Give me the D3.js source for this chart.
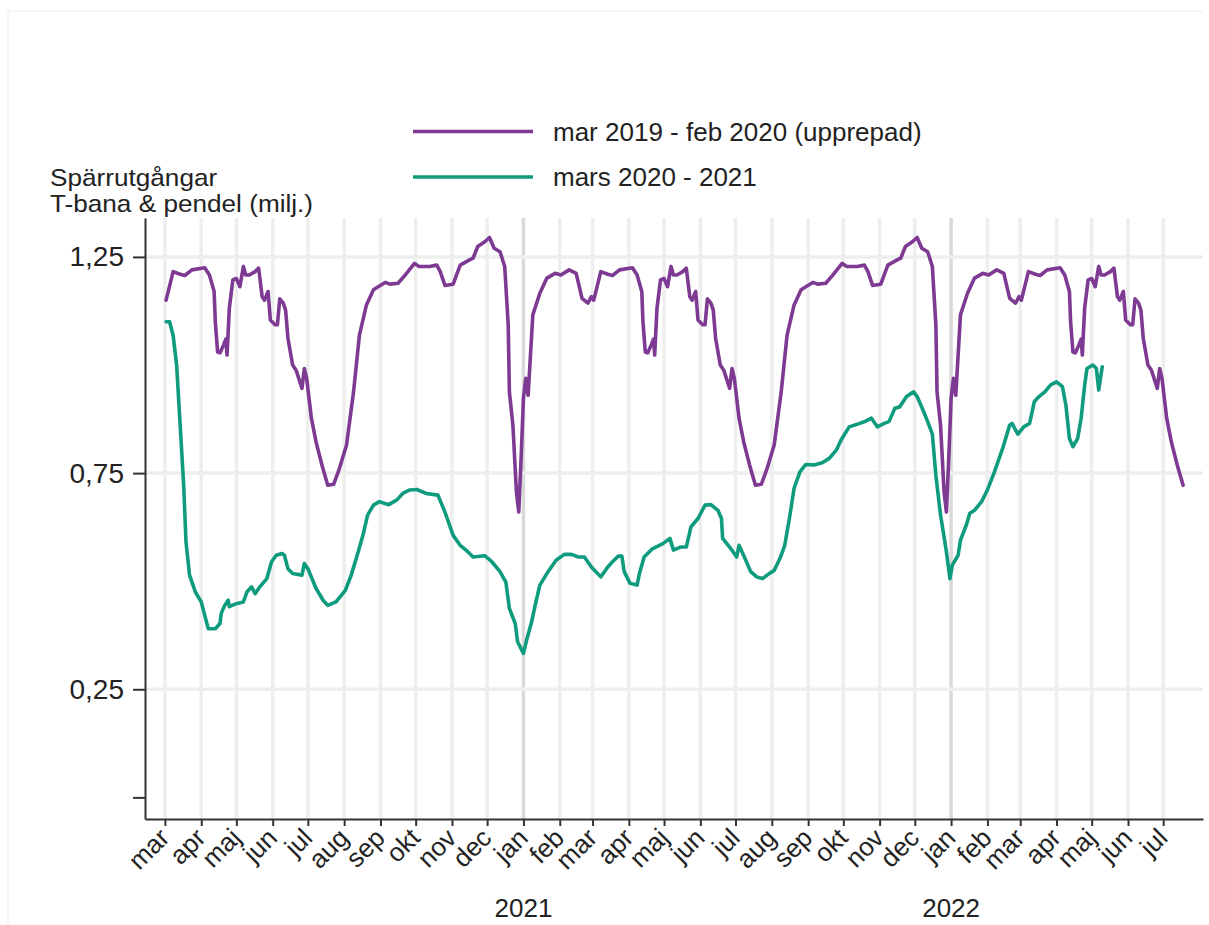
<!DOCTYPE html>
<html>
<head>
<meta charset="utf-8">
<script src="https://cdn.jsdelivr.net/npm/d3@7"></script>
<style>
  html, body { margin: 0; padding: 0; background: #fff; }
  text { font-family: "Liberation Sans", Arial, Helvetica, sans-serif; fill: #222; }
</style>
</head>
<body>
<svg id="chart" width="1209" height="925"></svg>
<script>
// ---------------- DATA ----------------
const monthLabels = ["jan","feb","mar","apr","maj","jun","jul","aug","sep","okt","nov","dec"];
const yTickValues = [0, 0.25, 0.75, 1.25];
const yLabelledTicks = [0.25, 0.75, 1.25];
const yearLabels = ["2021", "2022"];
const yTitleLines = ["Spärrutgångar", "T-bana & pendel (milj.)"];
const seriesNames = ["mar 2019 - feb 2020 (upprepad)", "mars 2020 - 2021"];

// Base year (mar 2019 - feb 2020), repeated each year (month-day)
const baseDates = ["03-02","03-08","03-14","03-18","03-24","04-04","04-08","04-12","04-13","04-15",
  "04-17","04-20","04-22","04-23","04-25","04-28","05-01","05-04","05-07","05-09",
  "05-12","05-17","05-20","05-23","05-25","05-28","05-30","06-03","06-05","06-07",
  "06-10","06-12","06-14","06-18","06-21","06-26","06-28","06-30","07-04","07-08",
  "07-13","07-18","07-23","07-28","08-03","08-09","08-14","08-20","08-26","08-30",
  "09-05","09-09","09-16","09-22","09-30","10-04","10-13","10-19","10-22","10-26",
  "11-02","11-08","11-16","11-19","11-23","11-29","12-03","12-07","12-12","12-16",
  "12-19","12-20","12-23","12-26","12-28","12-30","01-01","01-03","01-05","01-09",
  "01-15","01-21","01-28","02-02","02-09","02-15","02-20","02-25","02-28"];
const baseValues = [1.150,1.216,1.210,1.207,1.220,1.225,1.208,1.170,1.100,1.030,
  1.028,1.046,1.060,1.023,1.132,1.197,1.200,1.181,1.228,1.208,
  1.208,1.216,1.224,1.158,1.150,1.170,1.104,1.093,1.093,1.153,
  1.143,1.127,1.062,1.000,0.988,0.946,0.992,0.969,0.877,0.822,
  0.769,0.722,0.724,0.761,0.815,0.938,1.069,1.139,1.174,1.181,
  1.191,1.187,1.189,1.208,1.235,1.228,1.228,1.231,1.216,1.184,
  1.187,1.231,1.243,1.247,1.274,1.285,1.295,1.270,1.262,1.228,
  1.093,0.938,0.861,0.707,0.660,0.784,0.923,0.969,0.930,1.116,
  1.166,1.201,1.212,1.208,1.220,1.212,1.154,1.143,1.158];
const repeatStartYears = [2020, 2021, 2022];
const repeatEndDate = "2022-07-18";

// mars 2020 - 2021 (actual)
const greenDates = ["2020-03-02","2020-03-05","2020-03-08","2020-03-11","2020-03-14","2020-03-17","2020-03-19","2020-03-22","2020-03-27","2020-04-01",
  "2020-04-04","2020-04-07","2020-04-13","2020-04-17","2020-04-18","2020-04-21","2020-04-24","2020-04-25","2020-05-01","2020-05-07",
  "2020-05-10","2020-05-14","2020-05-17","2020-05-21","2020-05-27","2020-05-31","2020-06-04","2020-06-09","2020-06-11","2020-06-14",
  "2020-06-18","2020-06-26","2020-06-28","2020-07-01","2020-07-08","2020-07-14","2020-07-18","2020-07-25","2020-08-02","2020-08-07",
  "2020-08-13","2020-08-17","2020-08-21","2020-08-26","2020-08-31","2020-09-08","2020-09-15","2020-09-20","2020-09-26","2020-10-02",
  "2020-10-10","2020-10-20","2020-10-26","2020-11-02","2020-11-08","2020-11-13","2020-11-19","2020-11-29","2020-12-05","2020-12-12",
  "2020-12-17","2020-12-20","2020-12-25","2020-12-27","2021-01-01","2021-01-04","2021-01-08","2021-01-11","2021-01-15","2021-01-22",
  "2021-01-29","2021-02-05","2021-02-11","2021-02-17","2021-02-22","2021-02-28","2021-03-08","2021-03-14","2021-03-18","2021-03-23",
  "2021-03-26","2021-03-28","2021-04-02","2021-04-08","2021-04-10","2021-04-14","2021-04-21","2021-04-30","2021-05-06","2021-05-09",
  "2021-05-15","2021-05-20","2021-05-24","2021-05-30","2021-06-05","2021-06-10","2021-06-16","2021-06-19","2021-06-20","2021-06-26",
  "2021-07-02","2021-07-04","2021-07-09","2021-07-14","2021-07-19","2021-07-24","2021-07-30","2021-08-03","2021-08-08","2021-08-12",
  "2021-08-16","2021-08-20","2021-08-25","2021-08-30","2021-09-06","2021-09-13","2021-09-19","2021-09-25","2021-09-29","2021-10-06",
  "2021-10-15","2021-10-20","2021-10-25","2021-10-30","2021-11-05","2021-11-09","2021-11-14","2021-11-18","2021-11-24","2021-11-30",
  "2021-12-03","2021-12-08","2021-12-12","2021-12-16","2021-12-19","2021-12-23","2021-12-28","2021-12-31","2022-01-02","2022-01-07",
  "2022-01-09","2022-01-14","2022-01-17","2022-01-21","2022-01-27","2022-02-01","2022-02-07","2022-02-14","2022-02-20","2022-02-22",
  "2022-02-27","2022-03-04","2022-03-09","2022-03-13","2022-03-17","2022-03-22","2022-03-27","2022-04-01","2022-04-06","2022-04-09",
  "2022-04-12","2022-04-15","2022-04-19","2022-04-22","2022-04-25","2022-04-27","2022-05-02","2022-05-05","2022-05-07","2022-05-10"];
const greenValues = [1.100,1.100,1.069,1.000,0.861,0.722,0.591,0.514,0.475,0.452,
  0.421,0.390,0.390,0.402,0.425,0.444,0.456,0.441,0.448,0.452,
  0.475,0.487,0.471,0.487,0.506,0.545,0.560,0.564,0.560,0.529,
  0.518,0.514,0.541,0.529,0.483,0.456,0.444,0.452,0.479,0.514,
  0.568,0.606,0.653,0.676,0.684,0.677,0.688,0.703,0.711,0.712,
  0.703,0.699,0.660,0.606,0.583,0.572,0.556,0.559,0.545,0.522,
  0.498,0.437,0.402,0.360,0.333,0.367,0.406,0.444,0.491,0.522,
  0.549,0.562,0.562,0.556,0.556,0.533,0.510,0.533,0.545,0.558,
  0.558,0.522,0.495,0.491,0.518,0.556,0.575,0.587,0.599,0.572,
  0.579,0.579,0.626,0.645,0.676,0.677,0.664,0.645,0.599,0.579,
  0.556,0.583,0.553,0.522,0.510,0.506,0.518,0.525,0.553,0.583,
  0.645,0.715,0.753,0.770,0.769,0.774,0.784,0.803,0.826,0.857,
  0.865,0.870,0.877,0.857,0.865,0.869,0.900,0.903,0.927,0.938,
  0.927,0.896,0.869,0.840,0.745,0.653,0.568,0.506,0.537,0.560,
  0.595,0.630,0.657,0.664,0.684,0.711,0.753,0.807,0.861,0.865,
  0.840,0.857,0.865,0.915,0.927,0.938,0.954,0.961,0.950,0.907,
  0.830,0.811,0.830,0.877,0.954,0.992,1.000,0.992,0.942,0.996];

// ---------------- BUILD ----------------
const parse = d3.timeParse("%Y-%m-%d");
const endRepeat = parse(repeatEndDate);
const purpleData = [];
repeatStartYears.forEach(y0 => {
  baseDates.forEach((md, i) => {
    const m = +md.slice(0, 2);
    const yr = m >= 3 ? y0 : y0 + 1;
    const dt = parse(yr + "-" + md);
    if (dt <= endRepeat) purpleData.push({date: dt, value: baseValues[i]});
  });
});
const greenData = greenDates.map((d, i) => ({date: parse(d), value: greenValues[i]}));

const colPurple = "#7e3a93";
const colGreen = "#0f9b7d";
const font = '"Liberation Sans", Arial, sans-serif';

const svg = d3.select("#chart");
svg.append("rect").attr("width", 1209).attr("height", 925).attr("fill", "#fff");
// faint outer frame (left & top)
svg.append("line").attr("x1", 8).attr("x2", 8).attr("y1", 11).attr("y2", 925).attr("stroke", "#eef3f3").attr("stroke-width", 1.5);
svg.append("line").attr("x1", 8).attr("x2", 1203).attr("y1", 11).attr("y2", 11).attr("stroke", "#eef3f3").attr("stroke-width", 1.5);

const x = d3.scaleTime().domain([new Date(2020, 1, 13), new Date(2022, 7, 4)]).range([145, 1203]);
const y = d3.scaleLinear().domain([-0.05, 1.34]).range([819, 218]);

const months = d3.timeMonth.range(new Date(2020, 2, 1), new Date(2022, 7, 1));

// grid
const grid = svg.append("g");
grid.selectAll("line.v").data(months).join("line")
  .attr("x1", d => x(d)).attr("x2", d => x(d))
  .attr("y1", y.range()[1]).attr("y2", y.range()[0])
  .attr("stroke", d => d.getMonth() === 0 ? "#d9d9d9" : "#eeeeee")
  .attr("stroke-width", 3.5);
grid.selectAll("line.h").data(yLabelledTicks).join("line")
  .attr("x1", x.range()[0]).attr("x2", x.range()[1])
  .attr("y1", d => y(d)).attr("y2", d => y(d))
  .attr("stroke", "#eeeeee").attr("stroke-width", 3.5);

// lines
const line = d3.line().x(d => x(d.date)).y(d => y(d.value));
svg.append("path").datum(purpleData).attr("d", line)
  .attr("fill", "none").attr("stroke", colPurple).attr("stroke-width", 3.6)
  .attr("stroke-linejoin", "round").attr("stroke-linecap", "round");
svg.append("path").datum(greenData).attr("d", line)
  .attr("fill", "none").attr("stroke", colGreen).attr("stroke-width", 3.6)
  .attr("stroke-linejoin", "round").attr("stroke-linecap", "round");

// x axis
const xAxis = svg.append("g").attr("transform", `translate(0,${y.range()[0]})`)
  .call(d3.axisBottom(x).tickValues(months).tickSize(7).tickSizeOuter(0)
    .tickFormat(d => monthLabels[d.getMonth()]));
xAxis.select(".domain").attr("stroke", "#333").attr("stroke-width", 2);
xAxis.selectAll(".tick line").attr("stroke", "#333").attr("stroke-width", 2);
xAxis.selectAll(".tick text")
  .attr("x", 0).attr("y", 0).attr("dy", "0.35em")
  .attr("text-anchor", "end")
  .attr("transform", "translate(-1,14) rotate(-45)")
  .style("font-size", "26px").style("font-family", font).attr("fill", "#222");

// year labels
const yearDates = yearLabels.map(s => new Date(+s, 0, 1));
svg.selectAll("text.year").data(yearLabels).join("text")
  .attr("x", (d, i) => x(yearDates[i])).attr("y", 917)
  .attr("text-anchor", "middle").style("font-size", "26px").style("font-family", font)
  .text(d => d);

// y axis
const yAxis = svg.append("g").attr("transform", `translate(${x.range()[0]},0)`)
  .call(d3.axisLeft(y).tickValues(yTickValues).tickSize(12).tickSizeOuter(0).tickPadding(9)
    .tickFormat(d => yLabelledTicks.includes(d) ? d3.format(".2f")(d).replace(".", ",") : ""));
yAxis.select(".domain").attr("stroke", "#333").attr("stroke-width", 2);
yAxis.selectAll(".tick line").attr("stroke", "#333").attr("stroke-width", 2);
yAxis.selectAll(".tick text").style("font-size", "28px").style("font-family", font).attr("fill", "#222");

// y title (slightly widened glyphs, as in the reference)
svg.selectAll("text.ytitle").data(yTitleLines).join("text")
  .attr("transform", (d, i) => `translate(50,${186 + i * 26}) scale(1.09,1)`)
  .style("font-size", "24px").style("font-family", font)
  .text(d => d);

// legend
const legend = svg.append("g");
const legendColors = [colPurple, colGreen];
seriesNames.forEach((name, i) => {
  const ly = 131.5 + i * 45.5;
  legend.append("line").attr("x1", 413).attr("x2", 533).attr("y1", ly).attr("y2", ly)
    .attr("stroke", legendColors[i]).attr("stroke-width", 3.5);
  legend.append("text").attr("x", 553).attr("y", ly).attr("dy", "0.35em")
    .style("font-size", "26px").style("font-family", font).text(name);
});
</script>
</body>
</html>
